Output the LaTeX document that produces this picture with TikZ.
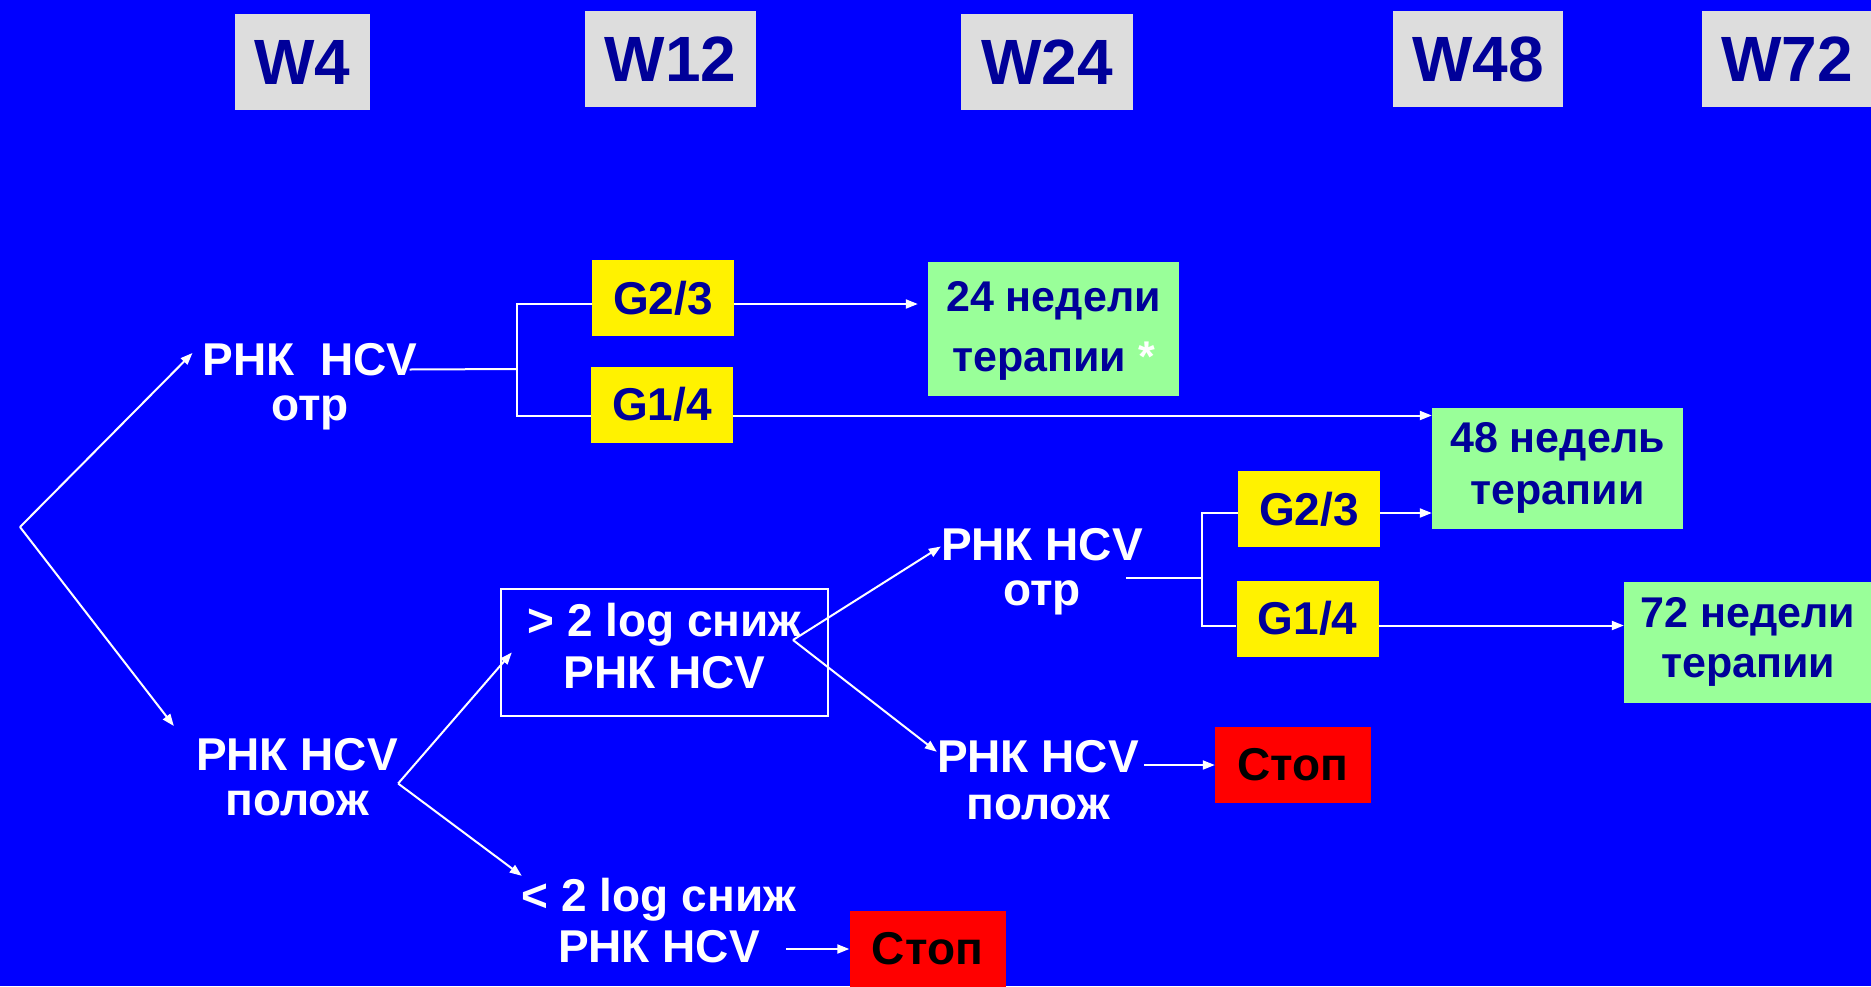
\documentclass[tikz,border=0pt]{standalone}
\usepackage{fontspec}
\setmainfont{Liberation Sans}
\usetikzlibrary{arrows.meta}
\definecolor{slide}{HTML}{0000FF}
\definecolor{navy}{HTML}{000099}
\definecolor{hdrgray}{HTML}{DDDDDD}
\definecolor{mint}{HTML}{99FF99}

\begin{document}
\begin{tikzpicture}[x=1pt,y=-1pt,
hdr/.style={fill=hdrgray,text=navy,font=\bfseries\fontsize{64}{64}\selectfont,minimum width=170pt,minimum height=96pt,inner sep=0pt},
txt/.style={text=white,align=center,inner sep=0pt,font=\bfseries\fontsize{46}{#1}\selectfont},txt/.default=45,
gbox/.style={fill=yellow,text=navy,font=\bfseries\fontsize{46}{46}\selectfont,minimum width=142pt,minimum height=76pt,inner sep=0pt},
tbox/.style={fill=mint,text=navy,align=center,inner sep=0pt,minimum width=251pt,minimum height=121pt,font=\bfseries\fontsize{43}{#1}\selectfont},tbox/.default=52,
stopbox/.style={fill=red,text=black,font=\bfseries\fontsize{46}{46}\selectfont,minimum width=156pt,minimum height=76pt,inner sep=0pt},
ln/.style={draw=white,line width=2pt},
arr/.style={-{Triangle[length=12pt,width=9pt]},draw=white,line width=2pt}]
\useasboundingbox (0,0) rectangle (1871,986);
\fill[slide] (0,0) rectangle (1871,986);
% weeks
\node[hdr,minimum width=135pt] (w4) at (302.5,62) {W4};
\node[hdr,minimum width=171pt] (w12) at (670.5,59) {W12};
\node[hdr,minimum width=172pt] (w24) at (1047,62) {W24};
\node[hdr] (w48) at (1478,59) {W48};
\node[hdr] (w72) at (1787,59) {W72};
% decision nodes
\coordinate (root) at (20,527);
\node[txt] (rnkneg) at (310,388.5) {\strut РНК\ \ HCV\\\strut отр};
\node[txt] (rnkpos) at (297,783.5) {\strut РНК HCV\\\strut полож};
\node[txt=52,draw=white,line width=2.5pt,minimum width=327pt,minimum height=127pt] (drop) at (664.5,652.5) {\strut > 2 log сниж\\\strut РНК HCV};
\node[txt=51] (nodrop) at (659,927) {\strut < 2 log сниж\\\strut РНК HCV};
\node[txt] (rnkneg2) at (1042,573.5) {\strut РНК HCV\\\strut отр};
\node[txt=47] (rnkpos2) at (1038,787) {\strut РНК HCV\\\strut полож};
\node[gbox] (g23a) at (663,298) {G2/3};
\node[gbox] (g14a) at (662,404.5) {G1/4};
\node[gbox] (g23b) at (1309,509) {G2/3};
\node[gbox] (g14b) at (1307.5,618.5) {G1/4};
% outcomes
\node[tbox=60,minimum height=134pt] (wk24) at (1053.5,329) {\strut 24 недели\\\strut терапии \textcolor{white}{*}};
\node[tbox] (wk48) at (1557.5,468.5) {\strut 48 недель\\\strut терапии};
\node[tbox=50,minimum width=248pt] (wk72) at (1748,642.5) {\strut 72 недели\\\strut терапии};
\node[stopbox] (stopa) at (1293,765) {Стоп};
\node[stopbox] (stopb) at (927.5,949) {Стоп};
\coordinate (forka) at (517,369);
\coordinate (forkb) at (1202,578);
\coordinate (split) at (793,640);
\draw[arr](root)--([xshift=-10pt,yshift=-10pt]rnkneg.north west);\draw[arr](root)--([xshift=-22pt,yshift=12pt]rnkpos.north west);
\draw[arr](rnkpos.east)--([xshift=12pt]drop.west);\draw[arr](rnkpos.east)--(nodrop.north west);
\draw[arr](split)--([yshift=27pt]rnkneg2.west);\draw[arr](split)--([yshift=-12pt]rnkpos2.north west);
\draw[ln]([xshift=-8pt,yshift=19pt]rnkneg.east)--(forka);\draw[ln]([yshift=-6pt]g23a.west)-|(forka)|-([yshift=-11pt]g14a.west);
\draw[arr,shorten >=10pt]([yshift=-6pt]g23a.east)--([yshift=-6pt]g23a.east-|wk24.west);\draw[arr]([yshift=-11pt]g14a.east)--([yshift=-11pt]g14a.east-|wk48.west);
\draw[ln]([xshift=-17pt]rnkneg2.east|-forkb)--(forkb);\draw[ln]([yshift=-4pt]g23b.west)-|(forkb)|-([yshift=-7pt]g14b.west);
\draw[arr]([yshift=-4pt]g23b.east)--([yshift=-4pt]g23b.east-|wk48.west);\draw[arr]([yshift=-7pt]g14b.east)--([yshift=-7pt]g14b.east-|wk72.west);
\draw[arr]([xshift=5pt]rnkpos2.east|-stopa.west)--(stopa.west);\draw[arr]([xshift=-10pt]nodrop.east|-stopb.west)--(stopb.west);
\end{tikzpicture}
\end{document}
